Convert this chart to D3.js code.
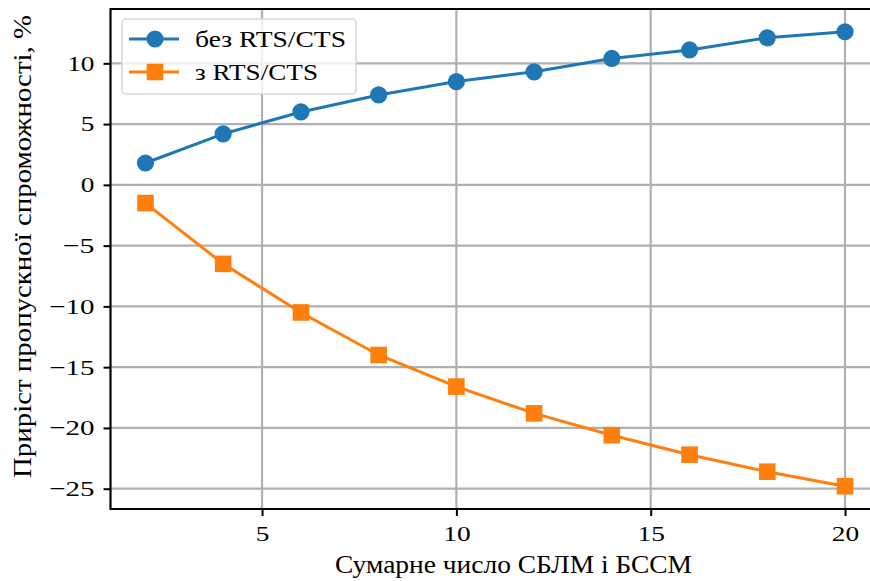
<!DOCTYPE html>
<html>
<head>
<meta charset="utf-8">
<script src="https://cdn.jsdelivr.net/npm/d3@7"></script>
<style>
  body { margin: 0; background: #fff; }
  svg { display: block; }
</style>
</head>
<body>
<script>
// data
const xValues = [2, 4, 6, 8, 10, 12, 14, 16, 18, 20]
const withoutRts = [1.8, 4.2, 6.0, 7.4, 8.5, 9.3, 10.4, 11.1, 12.1, 12.6]
const withRts = [-1.5, -6.5, -10.5, -14.0, -16.6, -18.8, -20.6, -22.2, -23.6, -24.8]
const seriesNames = ["без RTS/CTS", "з RTS/CTS"]
const xTicks = [5, 10, 15, 20]
const yTicks = [10, 5, 0, -5, -10, -15, -20, -25]
const xTitle = "Сумарне число СБЛМ і БССМ"
const yTitle = "Приріст пропускної спроможності, %"

const width = 870
const height = 581
const plotLeft = 110.5, plotTop = 9, plotRight = 880, plotBottom = 509

const x = d3.scaleLinear().domain([1.1, 20.9]).range([plotLeft, plotRight])
const y = d3.scaleLinear().domain([-26.67, 14.47]).range([plotBottom, plotTop])

const svg = d3.select("body")
    .append("svg")
    .attr("width", width)
    .attr("height", height)

const serif = "'Liberation Serif', serif"
const tickSize = 21.5

// widths the labels had in the original (wider serif face)
function labelWidth(s) {
    let w = 0
    for (const c of s) w += (c == "\u2212" ? 0.838 : 0.636)
    return w * tickSize
}

// grid
svg.append("g")
    .selectAll("line")
    .data(xTicks)
    .enter().append("line")
    .attr("x1", d => x(d)).attr("x2", d => x(d))
    .attr("y1", plotTop).attr("y2", plotBottom)
    .attr("stroke", "#b0b0b0").attr("stroke-width", 2.2)

svg.append("g")
    .selectAll("line")
    .data(yTicks)
    .enter().append("line")
    .attr("x1", plotLeft).attr("x2", plotRight)
    .attr("y1", d => y(d)).attr("y2", d => y(d))
    .attr("stroke", "#b0b0b0").attr("stroke-width", 2.2)

// axes
const fmt = d => d < 0 ? "\u2212" + Math.abs(d) : String(d)
const xAxis = svg.append("g")
    .attr("transform", `translate(0,${plotBottom})`)
    .call(d3.axisBottom(x).tickValues(xTicks).tickSize(7).tickPadding(10).tickFormat(fmt))
const yAxis = svg.append("g")
    .attr("transform", `translate(${plotLeft},0)`)
    .call(d3.axisLeft(y).tickValues(yTicks).tickSize(7).tickPadding(9).tickFormat(fmt))

for (const ax of [xAxis, yAxis]) {
    ax.select(".domain").remove()
    ax.selectAll(".tick line").attr("stroke", "#000").attr("stroke-width", 2)
    ax.selectAll(".tick text")
        .attr("fill", "#000")
        .style("font-family", serif)
        .style("font-size", tickSize + "px")
        .attr("textLength", d => labelWidth(fmt(d)))
        .attr("lengthAdjust", "spacingAndGlyphs")
}

// spines (right one falls outside the window)
svg.append("path")
    .attr("d", `M${plotRight},${plotTop}H${plotLeft}V${plotBottom}H${plotRight}`)
    .attr("fill", "none")
    .attr("stroke", "#000")
    .attr("stroke-width", 2.2)

// series
const series = [
    { name: seriesNames[0], values: withoutRts, color: "#1f77b4", marker: "circle", textW: 151 },
    { name: seriesNames[1], values: withRts, color: "#ff7f0e", marker: "square", textW: 123 }
]

const line = d3.line()
    .x((d, i) => x(xValues[i]))
    .y(d => y(d))

function drawMarker(g, kind, color) {
    if (kind == "circle") {
        g.append("circle").attr("r", 8.6).attr("fill", color)
    } else {
        g.append("rect").attr("x", -8.3).attr("y", -8.3).attr("width", 16.6).attr("height", 16.6).attr("fill", color)
    }
}

series.forEach(s => {
    svg.append("path")
        .datum(s.values)
        .attr("d", line)
        .attr("fill", "none")
        .attr("stroke", s.color)
        .attr("stroke-width", 3)

    s.values.forEach((v, i) => {
        const g = svg.append("g").attr("transform", `translate(${x(xValues[i])},${y(v)})`)
        drawMarker(g, s.marker, s.color)
    })
})

// legend
const legend = svg.append("g")
legend.append("rect")
    .attr("x", 122).attr("y", 19)
    .attr("width", 234).attr("height", 75)
    .attr("rx", 4)
    .attr("fill", "rgba(255,255,255,0.8)")
    .attr("stroke", "#d6d6d6")
    .attr("stroke-width", 1.5)

series.forEach((s, i) => {
    const ly = 39 + i * 33
    legend.append("line")
        .attr("x1", 129).attr("x2", 179)
        .attr("y1", ly).attr("y2", ly)
        .attr("stroke", s.color).attr("stroke-width", 3)
    const g = legend.append("g").attr("transform", `translate(155,${ly})`)
    drawMarker(g, s.marker, s.color)
    legend.append("text")
        .attr("x", 195).attr("y", ly + 8)
        .style("font-family", serif)
        .style("font-size", "22.5px")
        .attr("textLength", s.textW)
        .attr("lengthAdjust", "spacingAndGlyphs")
        .text(s.name)
})

// titles
svg.append("text")
    .attr("x", 513.5)
    .attr("y", 573)
    .attr("text-anchor", "middle")
    .style("font-family", serif)
    .style("font-size", "26px")
    .attr("textLength", 357)
    .attr("lengthAdjust", "spacingAndGlyphs")
    .text(xTitle)

svg.append("text")
    .attr("transform", `translate(31,246.5) rotate(-90)`)
    .attr("text-anchor", "middle")
    .style("font-family", serif)
    .style("font-size", "26px")
    .attr("textLength", 463)
    .attr("lengthAdjust", "spacingAndGlyphs")
    .text(yTitle)
</script>
</body>
</html>
